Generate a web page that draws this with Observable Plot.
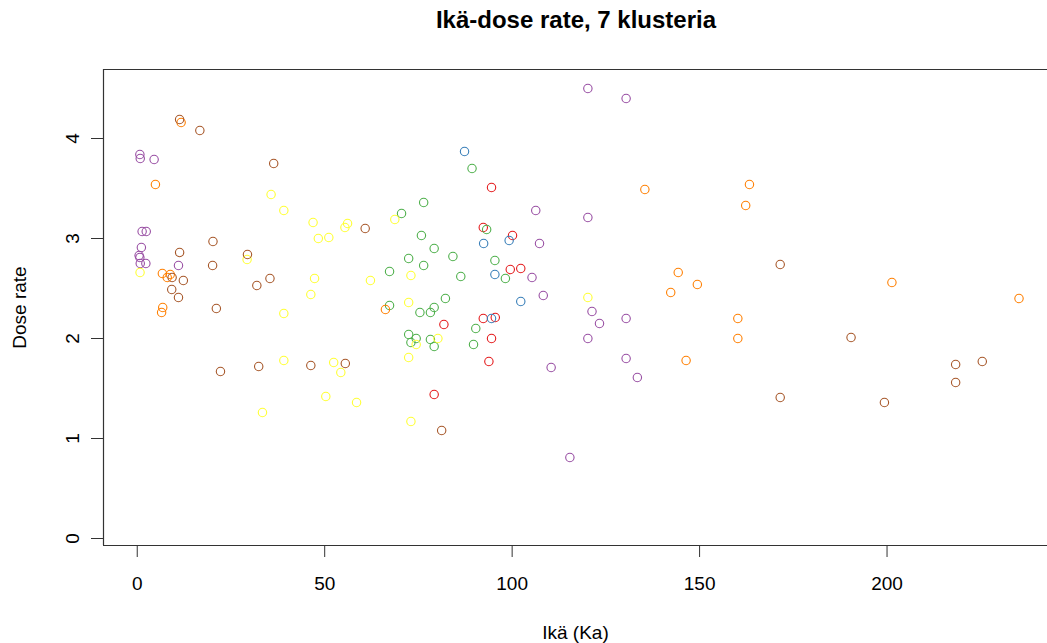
<!DOCTYPE html>
<html>
<head>
<meta charset="utf-8">
<script src="https://cdn.jsdelivr.net/npm/d3@7"></script>
<script src="https://cdn.jsdelivr.net/npm/@observablehq/plot@0.6"></script>
<style>
  html, body { margin: 0; padding: 0; background: #fff; }
  #title { width: 946px; margin-left: 103px; height: 40px; line-height: 40px; text-align: center;
           font-family: "Liberation Sans", Arial, sans-serif; font-weight: bold; font-size: 24px; color: #000; }
</style>
</head>
<body>
<div id="title">Ikä-dose rate, 7 klusteria</div>
<div id="chart"></div>
<script>
// Cluster names and colours
const clusters = ["1", "2", "3", "4", "5", "6", "7"];
const clusterColors = ["#E41A1C", "#377EB8", "#4DAF4A", "#984EA3", "#FF7F00", "#FFFF33", "#A65628"];

// Cluster 1 (red)
const age1  = [94.5, 92.3, 100.1, 99.5, 102.3, 92.3, 95.5, 81.8, 94.5, 93.8, 79.2];
const dose1 = [3.51, 3.11, 3.03, 2.69, 2.70, 2.20, 2.21, 2.14, 2.00, 1.77, 1.44];
// Cluster 2 (blue)
const age2  = [87.3, 99.2, 92.4, 95.4, 102.3, 94.5];
const dose2 = [3.87, 2.98, 2.95, 2.64, 2.37, 2.20];
// Cluster 3 (green)
const age3  = [89.3, 76.4, 70.5, 93.2, 75.8, 79.2, 84.2, 72.4, 95.4, 76.4, 86.3, 67.3, 98.2, 82.2, 67.3, 79.2, 78.2, 75.4, 90.3, 72.4, 74.4, 73.0, 78.2, 79.2, 89.7];
const dose3 = [3.70, 3.36, 3.25, 3.09, 3.03, 2.90, 2.82, 2.80, 2.78, 2.73, 2.62, 2.67, 2.60, 2.40, 2.33, 2.31, 2.26, 2.26, 2.10, 2.04, 2.00, 1.96, 1.99, 1.92, 1.94];
// Cluster 4 (purple)
const age4  = [120.2, 130.4, 0.7, 0.8, 4.5, 1.3, 2.4, 1.1, 0.5, 0.7, 0.8, 2.3, 11.0, 106.3, 120.2, 107.3, 105.3, 108.3, 121.3, 123.3, 130.4, 120.2, 130.4, 110.4, 133.4, 115.4];
const dose4 = [4.50, 4.40, 3.84, 3.80, 3.79, 3.07, 3.07, 2.91, 2.83, 2.81, 2.75, 2.75, 2.73, 3.28, 3.21, 2.95, 2.61, 2.43, 2.27, 2.15, 2.20, 2.00, 1.80, 1.71, 1.61, 0.81];
// Cluster 5 (orange)
const age5  = [11.7, 4.85, 6.7, 8.0, 8.8, 6.8, 6.5, 66.2, 135.4, 163.3, 162.3, 144.3, 149.4, 142.3, 160.2, 160.2, 146.4, 201.3, 235.2];
const dose5 = [4.16, 3.54, 2.65, 2.61, 2.64, 2.31, 2.26, 2.29, 3.49, 3.54, 3.33, 2.66, 2.54, 2.46, 2.20, 2.00, 1.78, 2.56, 2.40];
// Cluster 6 (yellow)
const age6  = [35.7, 39.1, 29.3, 0.75, 39.1, 39.1, 33.4, 68.7, 46.9, 56.1, 55.4, 48.3, 51.1, 73.0, 47.3, 62.2, 46.3, 72.4, 74.4, 80.2, 72.4, 52.4, 54.3, 50.3, 58.5, 73.0, 120.2];
const dose6 = [3.44, 3.28, 2.79, 2.66, 2.25, 1.78, 1.26, 3.19, 3.16, 3.15, 3.11, 3.00, 3.01, 2.63, 2.60, 2.58, 2.44, 2.36, 1.94, 2.00, 1.81, 1.76, 1.66, 1.42, 1.36, 1.17, 2.41];
// Cluster 7 (brown)
const age7  = [11.3, 16.7, 36.4, 20.2, 11.3, 29.4, 20.1, 9.3, 12.3, 35.4, 31.9, 9.2, 11.0, 21.1, 32.4, 22.2, 60.8, 46.3, 55.5, 81.2, 171.5, 171.5, 190.4, 218.3, 225.4, 218.3, 199.3];
const dose7 = [4.19, 4.08, 3.75, 2.97, 2.86, 2.84, 2.73, 2.61, 2.58, 2.60, 2.53, 2.49, 2.41, 2.30, 1.72, 1.67, 3.10, 1.73, 1.75, 1.08, 2.74, 1.41, 2.01, 1.74, 1.77, 1.56, 1.36];

// Axis ticks
const xTicks = [0, 50, 100, 150, 200];
const yTicks = [0, 1, 2, 3, 4];

const ages = [age1, age2, age3, age4, age5, age6, age7];
const doses = [dose1, dose2, dose3, dose4, dose5, dose6, dose7];
const data = clusters.flatMap((c, i) => ages[i].map((a, j) => ({age: a, dose: doses[i][j], cluster: c})));

const xDomain = [-9.0, 242.8];
const yDomain = [-0.07, 4.69];
const font = '"Liberation Sans", Arial, sans-serif';

const chart = Plot.plot({
  width: 1047,
  height: 603,
  marginTop: 29,
  marginLeft: 103,
  marginRight: 0,
  marginBottom: 98,
  style: {fontFamily: font, fontSize: "19px", color: "#000", background: "#fff", overflow: "visible"},
  x: {domain: xDomain},
  y: {domain: yDomain},
  color: {domain: clusters, range: clusterColors},
  marks: [
    Plot.ruleY([yDomain[0], yDomain[1]], {stroke: "#333", strokeWidth: 1.2}),
    Plot.ruleX([xDomain[0]], {stroke: "#333", strokeWidth: 1.2}),
    Plot.axisX({ticks: xTicks, tickFormat: d => String(d), tickSize: 12, tickPadding: 19, fontSize: 19, label: "Ikä (Ka)", labelAnchor: "center", labelArrow: "none", labelOffset: 93, stroke: "#333"}),
    Plot.axisY({ticks: yTicks, tickFormat: d => String(d), tickSize: 12, tickPadding: 13, tickRotate: -90, fontSize: 19, label: "Dose rate", labelAnchor: "center", labelArrow: "none", labelOffset: 91, stroke: "#333"}),
    Plot.dot(data, {x: "age", y: "dose", stroke: "cluster", r: 4.2, strokeWidth: 1.1, fill: "none"})
  ]
});
document.getElementById("chart").appendChild(chart);
</script>
</body>
</html>
